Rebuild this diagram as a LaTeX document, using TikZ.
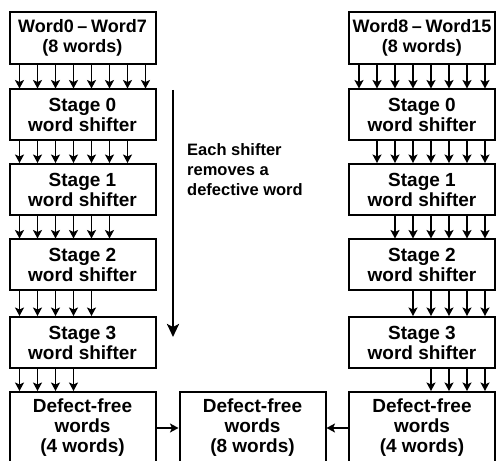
\documentclass[tikz,border=0pt]{standalone}
\usepackage{fontspec}
\setmainfont{Liberation Sans}
\usetikzlibrary{arrows.meta}
\begin{document}
\begin{tikzpicture}[x=1pt,y=1pt,
  blk/.style={draw, line width=2pt, minimum width=146pt, minimum height=51pt,
    inner sep=0pt, align=center, font=\fontsize{19}{20}\selectfont\bfseries},
  wire/.style={line width=1.6pt, -{Stealth[length=8.5pt,width=9pt,inset=2pt]}}]
\useasboundingbox (0,0) rectangle (496,461);
\clip (0,0) rectangle (496,461);
% left column
\node[blk, minimum height=52pt, font=\fontsize{18}{20}\selectfont\bfseries] (inL) at (82.5,423){Word0\hspace{0.2em}\textendash\hspace{0.2em}Word7\\(8 words)};
\node[blk] (s0L) at (82.5,346){Stage 0\\word shifter};
\node[blk] (s1L) at (82.5,271.5){Stage 1\\word shifter};
\node[blk] (s2L) at (82.5,196){Stage 2\\word shifter};
\node[blk] (s3L) at (82.5,118.5){Stage 3\\word shifter};
\node[blk, minimum height=72pt] (dfL) at (82.5,33){Defect-free\\words\\(4 words)};
% right column
\node[blk, minimum height=52pt, font=\fontsize{18}{20}\selectfont\bfseries] (inR) at (422,423){Word8\hspace{0.2em}\textendash\hspace{0.2em}Word15\\(8 words)};
\node[blk] (s0R) at (422,346){Stage 0\\word shifter};
\node[blk] (s1R) at (422,271.5){Stage 1\\word shifter};
\node[blk] (s2R) at (422,196){Stage 2\\word shifter};
\node[blk] (s3R) at (422,118.5){Stage 3\\word shifter};
\node[blk, minimum height=72pt] (dfR) at (422,33){Defect-free\\words\\(4 words)};
% merged result
\node[blk, minimum height=72pt] (dfM) at (252.5,33){Defect-free\\words\\(8 words)};
% word lines
\foreach \a/\b/\n in {inL/s0L/7, s0L/s1L/6, s1L/s2L/5, s2L/s3L/4, s3L/dfL/3}
  \foreach \i in {0,...,\n}
    \draw[wire] ([xshift=11pt+\i*18pt]\a.south west) -- ([xshift=11pt+\i*18pt]\b.north west);
\foreach \a/\b/\m in {inR/s0R/0, s0R/s1R/1, s1R/s2R/2, s2R/s3R/3, s3R/dfR/4}
  \foreach \i in {\m,...,7}
    \draw[wire] ([xshift=11pt+\i*18pt]\a.south west) -- ([xshift=11pt+\i*18pt]\b.north west);
\draw[wire] (dfL.east) -- (dfM.west);
\draw[wire] (dfR.west) -- (dfM.east);
% note
\coordinate (atop) at (173,371);
\coordinate (abot) at (173,124);
\draw[line width=2.5pt, -{Stealth[length=13pt,width=12pt,inset=3pt]}] (atop) -- (abot);
\node[anchor=north west, inner sep=0pt, align=left,
  font=\fontsize{16.5}{20}\selectfont\bfseries] (note) at (187,318)
  {Each shifter\\removes a\\defective word};
\end{tikzpicture}
\end{document}
